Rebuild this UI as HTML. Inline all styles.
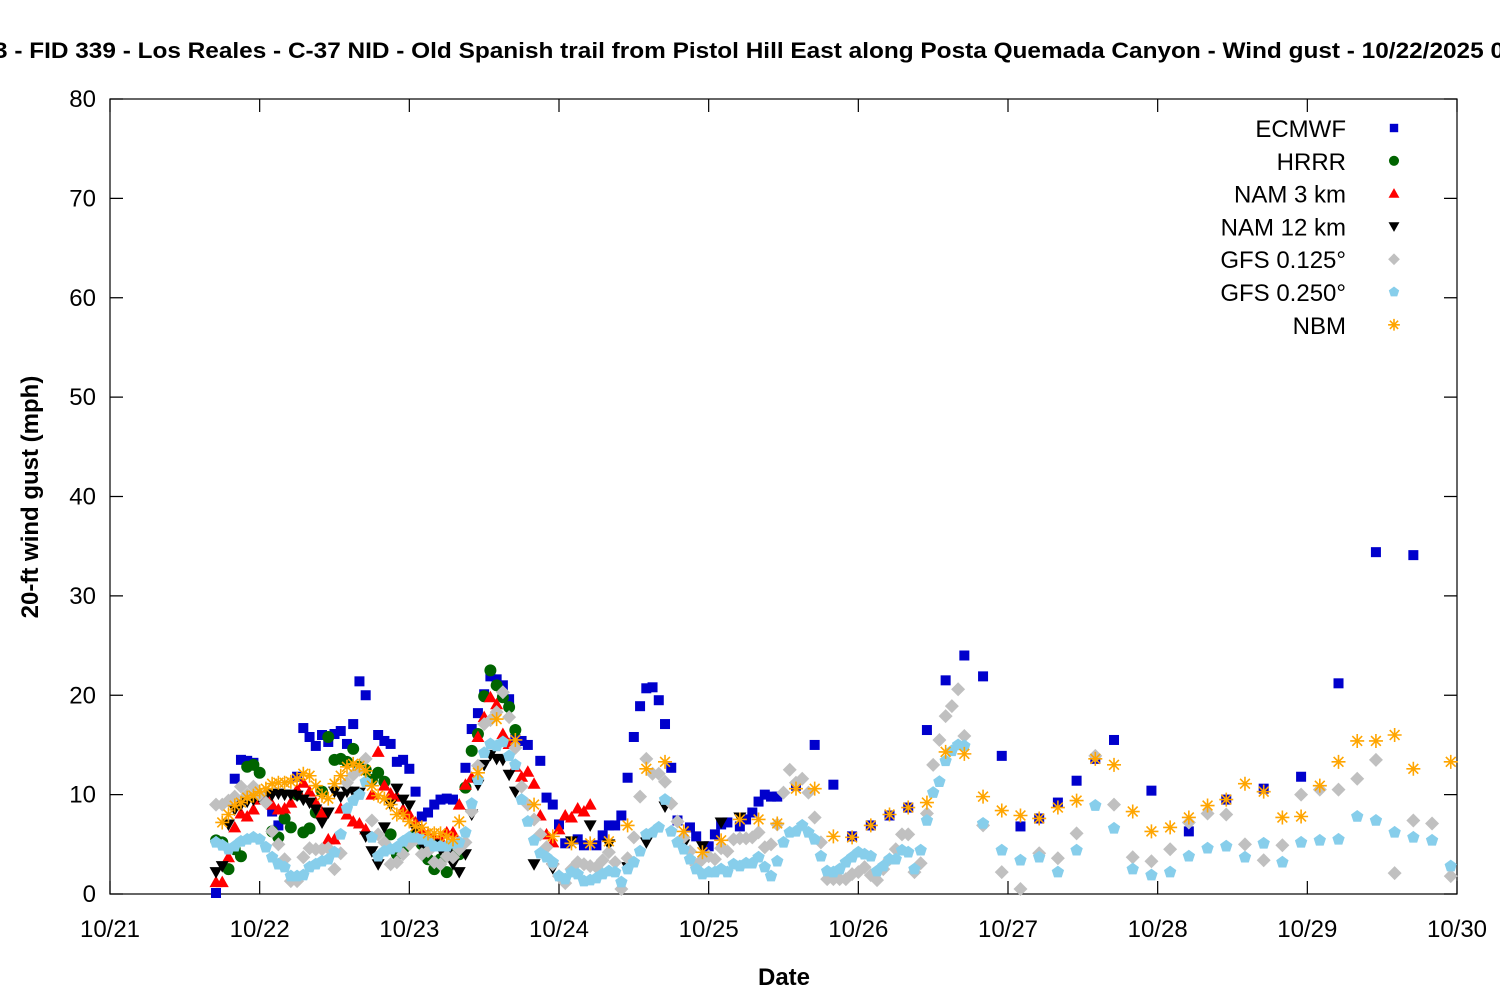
<!DOCTYPE html>
<html><head><meta charset="utf-8"><style>
html,body{margin:0;padding:0;background:#fff;}
svg{display:block;font-family:"Liberation Sans","DejaVu Sans",sans-serif;}
</style></head><body>
<svg id="chart" width="1500" height="1000" viewBox="0 0 1500 1000" xmlns="http://www.w3.org/2000/svg">
<rect width="1500" height="1000" fill="#fff"/>
<text x="-6" y="58" font-size="22" font-weight="bold" textLength="1510" lengthAdjust="spacingAndGlyphs">3 - FID 339 - Los Reales - C-37 NID - Old Spanish trail from Pistol Hill East along Posta Quemada Canyon - Wind gust - 10/22/2025 0</text>
<g id="axes"></g>
<g id="marks"></g>
<g id="legend"></g>
<text transform="translate(38,497) rotate(-90)" text-anchor="middle" font-size="24" font-weight="bold">20-ft wind gust (mph)</text>
<text x="784" y="985" text-anchor="middle" font-size="24" font-weight="bold">Date</text>
</svg>
<script>
const NS='http://www.w3.org/2000/svg';
function range(a,b,s){const r=[];for(let i=a;i<=b;i+=(s||1))r.push(i);return r;}
// ---- data (hours since 10/21 00:00, mph) ----
const xTickLabels=['10/21','10/22','10/23','10/24','10/25','10/26','10/27','10/28','10/29','10/30'];
const yTickLabels=[0,10,20,30,40,50,60,70,80];
const seriesNames=['ECMWF','HRRR','NAM 3 km','NAM 12 km','GFS 0.125°','GFS 0.250°','NBM'];

const ecmwfHours=[17,20,21,22,23,26,27,30,31,32,33,34,35,36,37,38,39,40,41,43,44,45,46,47,48,49,50,51,52,53,54,55,57,58,59,60,61,62,63,64,65,66,67,69,70,71,72,73,75,76,78,79,80,81,82,83,84,85,86,87,88,89,90,91,93,94,96,97,98,99,101,102,103,104,105,106,107,110,113,116,119,122,125,128,131,134,137,140,143,146,149,152,155,158,161,167,173,179,185,191,197,203,209];
const ecmwfValues=[0.1,11.6,13.5,13.4,13.2,8.3,6.9,11.8,16.7,15.8,14.9,16.0,15.3,16.1,16.4,15.1,17.1,21.4,20.0,16.0,15.4,15.1,13.3,13.5,12.6,10.3,7.8,8.2,9.0,9.5,9.6,9.5,12.7,16.6,18.2,20.1,21.9,21.6,21.0,19.6,15.6,15.4,15.0,13.4,9.7,9.0,7.0,5.1,5.5,4.9,4.9,5.9,6.9,6.9,7.9,11.7,15.8,18.9,20.7,20.8,19.5,17.1,12.7,7.4,6.7,5.8,4.8,6.0,7.0,7.2,6.8,7.5,8.2,9.3,10.0,9.8,9.8,10.9,15.0,11.0,5.8,6.9,7.9,8.7,16.5,21.5,24.0,21.9,13.9,6.8,7.6,9.2,11.4,13.6,15.5,10.4,6.3,9.5,10.6,11.8,21.2,34.4,34.1];

const hrrrHours=range(17,65);
const hrrrValues=[5.4,5.2,2.5,4.5,3.8,12.8,13.0,12.2,9.5,6.3,5.7,7.6,6.7,10.0,6.2,6.6,8.2,10.3,15.8,13.5,13.6,13.3,14.6,12.8,12.5,11.5,12.2,11.3,6.0,4.0,4.5,5.5,6.0,5.0,3.5,2.5,3.5,2.2,4.2,4.0,10.7,14.4,16.1,19.9,22.5,21.0,19.8,18.8,16.5];

const nam3Hours=range(17,77);
const nam3Values=[1.2,1.2,3.7,6.7,8.1,7.8,8.5,9.5,10.0,9.0,8.5,8.6,9.2,10.5,11.2,10.3,9.2,8.2,5.5,5.5,8.6,8.0,7.3,7.1,6.5,10.0,14.3,10.9,10.1,9.8,8.5,8.0,7.2,6.5,6.0,5.5,5.5,6.2,6.2,9.0,11.0,11.7,15.8,17.8,19.8,19.1,16.1,15.1,12.8,11.8,12.3,11.1,7.9,6.0,5.2,6.5,7.9,7.7,8.6,8.3,9.0];

const nam12Hours=range(17,65).concat([68,71,74,77,80,83,86,89,92,95,98,101]);
const nam12Values=[2.2,2.8,7.0,8.5,9.0,9.3,9.5,9.7,9.9,10.0,10.1,10.0,10.0,9.9,9.5,9.2,8.5,7.2,8.2,10.3,9.8,10.3,10.3,10.2,5.8,4.3,3.0,6.7,9.0,10.6,9.5,8.9,6.5,5.0,4.5,5.0,4.5,4.0,3.0,2.2,4.0,8.0,11.0,13.0,14.0,13.6,13.5,12.0,10.3,3.0,2.6,5.3,6.9,5.0,2.7,5.2,8.8,5.0,4.8,7.2,7.7];

const gfs125Hours=range(17,137).concat([140,143,146,149,152,155,158,161,164,167,170,173,176,179,182,185,188,191,194,197,200,203,206,209,212,215]);
const gfs125Values=[9.0,9.0,9.4,9.8,10.8,10.0,10.8,10.0,9.2,6.3,5.0,3.5,1.3,1.3,3.7,4.6,4.5,4.5,4.6,2.5,4.1,11.2,12.0,12.5,13.6,7.4,6.0,5.2,3.0,3.2,4.0,5.0,5.5,4.0,4.3,3.2,3.0,3.8,3.7,4.5,5.2,8.3,12.9,17.1,17.5,18.3,20.3,17.8,14.7,10.8,9.0,7.5,6.0,4.7,3.0,1.8,1.1,2.5,3.2,3.0,2.8,2.7,3.4,4.2,3.2,0.5,3.6,5.7,9.8,13.6,12.1,12.1,11.3,9.1,7.3,5.7,4.3,2.9,3.5,3.8,3.5,4.6,4.3,5.5,5.6,5.6,5.7,6.2,4.7,5.0,7.0,10.2,12.5,11.2,11.6,10.2,7.7,5.2,1.5,1.5,1.5,1.5,2.0,2.2,2.7,1.9,1.4,2.5,3.5,4.5,6.0,6.0,2.2,3.1,8.1,13.0,15.5,17.9,18.9,20.6,15.9,
6.9,2.2,0.5,4.1,3.6,6.1,13.9,9.0,3.7,3.3,4.5,7.2,8.1,8.0,5.0,3.4,4.9,10.0,10.5,10.5,11.6,13.5,2.1,7.4,7.1,1.8];

const gfs250Hours=range(17,137).concat([140,143,146,149,152,155,158,161,164,167,170,173,176,179,182,185,188,191,194,197,200,203,206,209,212,215]);
const gfs250Values=[5.2,4.9,4.5,4.8,5.3,5.5,5.7,5.5,4.7,3.7,3.0,2.7,1.8,1.8,1.9,2.7,3.0,3.3,3.5,4.2,6.0,8.6,9.4,10.0,11.3,5.7,3.8,4.3,4.5,4.7,5.3,5.7,5.7,5.5,5.3,4.8,4.8,4.8,5.1,5.2,6.2,9.1,11.5,14.2,15.1,14.9,15.3,13.9,13.0,9.5,7.3,5.4,4.1,3.7,3.2,1.8,1.5,2.2,2.0,1.3,1.4,1.6,2.0,2.3,2.2,1.2,2.5,3.2,4.3,6.0,6.2,6.7,9.5,6.3,5.2,4.5,3.5,2.5,2.0,2.2,2.2,2.5,2.2,3.0,2.8,3.1,3.1,3.7,2.7,1.8,3.3,5.2,6.2,6.3,6.9,6.2,5.5,3.8,2.3,2.2,2.5,3.2,3.7,4.2,4.0,3.8,2.3,2.8,3.5,3.5,4.4,4.2,2.5,4.4,7.4,10.2,11.3,13.4,14.4,15.0,14.9,
7.1,4.4,3.4,3.7,2.2,4.4,8.9,6.6,2.5,1.9,2.2,3.8,4.6,4.8,3.7,5.1,3.2,5.2,5.4,5.5,7.8,7.4,6.2,5.7,5.4,2.8];

const nbmHours=range(18,55).concat([56,59,62,65,68,71,74,77,80,83,86,89,92,95,98,101,104,107,110,113,116,119,122,125,128,131,134,137,140,143,146,149,152,155,158,161,164,167,170,173,176,179,182,185,188,191,194,197,200,203,206,209,215]);
const nbmValues=[7.2,8.0,8.9,9.2,9.7,9.9,10.3,10.6,11.1,11.2,11.2,11.3,11.6,12.1,11.9,10.9,9.9,9.6,11.1,11.9,12.8,13.1,12.9,12.4,10.9,9.9,9.6,9.0,8.0,8.0,7.3,6.8,6.7,6.1,6.1,6.1,5.8,5.5,
7.3,12.2,17.6,15.5,9.0,5.8,5.1,5.1,5.3,6.9,12.6,13.3,6.3,4.2,5.4,7.5,7.5,7.1,10.6,10.6,5.8,5.7,6.9,8.0,8.7,9.2,14.3,14.1,9.8,8.4,7.9,7.6,8.7,9.4,13.6,13.0,8.3,6.3,6.7,7.7,8.9,9.5,11.1,10.3,7.7,7.8,10.9,13.3,15.4,15.4,16.0,12.6,13.3];

// ---- axes ----
const X0=110,X1=1457,Y0=894,Y1=99;
function xScale(h){return X0+(h/216)*(X1-X0);}
function yScale(v){return Y0-(v/80)*(Y0-Y1);}

function el(tag,attrs,parent){const e=document.createElementNS(NS,tag);for(const k in attrs)e.setAttribute(k,attrs[k]);parent.appendChild(e);return e;}
const axes=document.getElementById('axes');
const frame=el('rect',{x:X0,y:Y1,width:X1-X0,height:Y0-Y1,fill:'none',stroke:'#000','stroke-width':1.2},axes);


yTickLabels.forEach(v=>{
  const y=yScale(v);
  const t=el('path',{d:`M${X0} ${y}h13M${X1} ${y}h-13`,stroke:'#000','stroke-width':1.2},axes);
  
  
  const l=el('text',{x:96,y:y+8,'text-anchor':'end','font-size':24},axes);
  l.textContent=v;
  
  
});
xTickLabels.forEach((s,i)=>{
  const x=xScale(i*24);
  const t=el('path',{d:`M${x} ${Y0}v-13M${x} ${Y1}v13`,stroke:'#000','stroke-width':1.2},axes);
  
  
  const l=el('text',{x:x,y:937,'text-anchor':'middle','font-size':24},axes);
  l.textContent=s;
  
  
});

// ---- markers ----
function marker(kind,x,y,s,parent){
  let e;
  if(kind==='square') e=el('rect',{x:x-s,y:y-s,width:2*s,height:2*s,fill:'#0000cc'},parent);
  else if(kind==='circle') e=el('circle',{cx:x,cy:y,r:s*1.2,fill:'#006400'},parent);
  else if(kind==='up') e=el('path',{d:`M${x} ${y-s*1.3}L${x+s*1.3} ${y+s}L${x-s*1.3} ${y+s}Z`,fill:'#ff0000'},parent);
  else if(kind==='down') e=el('path',{d:`M${x} ${y+s*1.3}L${x+s*1.3} ${y-s}L${x-s*1.3} ${y-s}Z`,fill:'#000'},parent);
  else if(kind==='diamond') e=el('path',{d:`M${x} ${y-s*1.4}L${x+s*1.4} ${y}L${x} ${y+s*1.4}L${x-s*1.4} ${y}Z`,fill:'#c0c0c0'},parent);
  else if(kind==='pent'){let p='';for(let k=0;k<5;k++){const a=-Math.PI/2+k*2*Math.PI/5;p+=(k?'L':'M')+(x+s*1.3*Math.cos(a))+' '+(y+s*1.3*Math.sin(a));}e=el('path',{d:p+'Z',fill:'#87ceeb'},parent);}
  else {const r=s*1.4;e=el('path',{d:`M${x-r} ${y}h${2*r}M${x} ${y-r}v${2*r}M${x-r*0.7} ${y-r*0.7}l${1.4*r} ${1.4*r}M${x-r*0.7} ${y+r*0.7}l${1.4*r} ${-1.4*r}`,stroke:'#ffa500','stroke-width':1.6,fill:'none'},parent);}
  return e;
}
const kinds=['square','circle','up','down','diamond','pent','star'];
const allHours=[ecmwfHours,hrrrHours,nam3Hours,nam12Hours,gfs125Hours,gfs250Hours,nbmHours];
const allValues=[ecmwfValues,hrrrValues,nam3Values,nam12Values,gfs125Values,gfs250Values,nbmValues];
const marks=document.getElementById('marks');
allHours.forEach((hs,si)=>{
  const g=el('g',{},marks);
  
  
  hs.forEach((h,i)=>{
    const v=allValues[si][i];
    if(v===undefined) return;
    const m=marker(kinds[si],xScale(h),yScale(v),5,g);
    
    
  });
});

// ---- legend ----
const leg=document.getElementById('legend');
seriesNames.forEach((n,i)=>{
  const y=128+i*32.8;
  const t=el('text',{x:1346,y:y+9,'text-anchor':'end','font-size':24},leg);
  t.textContent=n;
  
  
  const m=marker(kinds[i],1394,y,4.2,leg);
  
  
});
</script>
</body></html>
